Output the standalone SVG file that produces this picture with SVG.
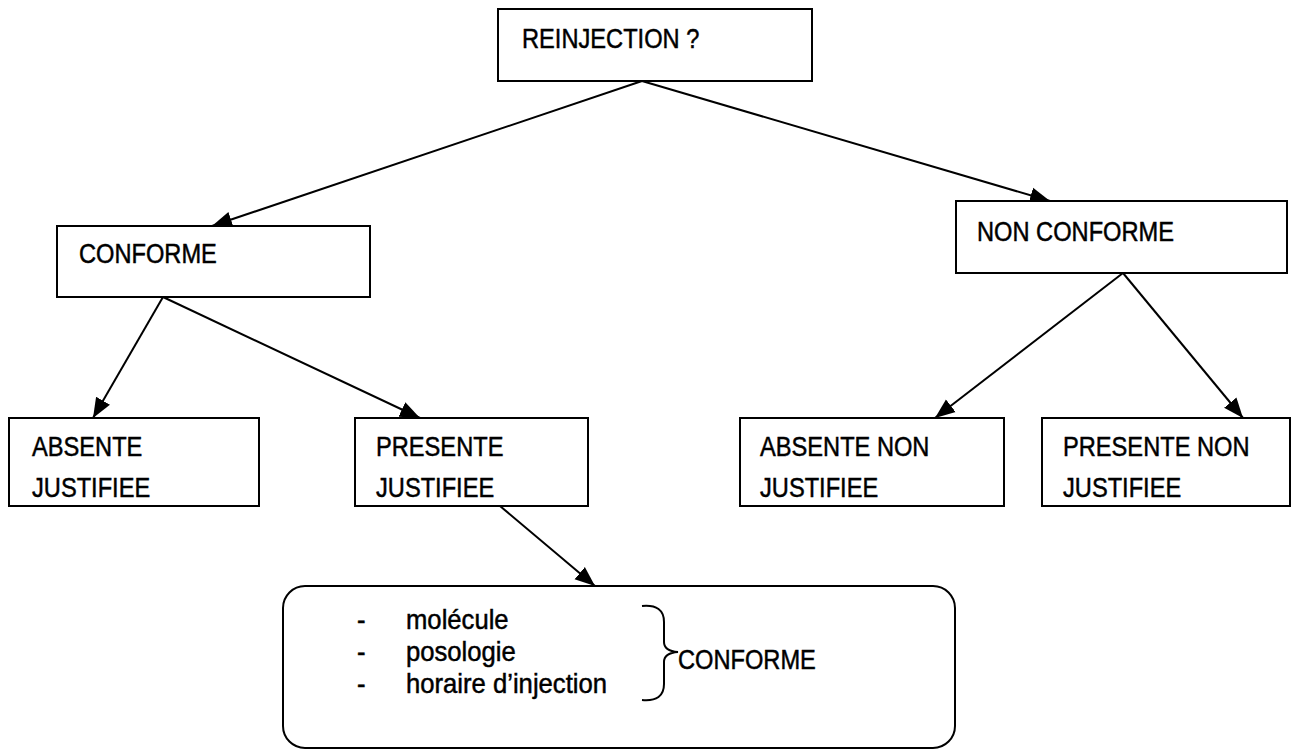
<svg xmlns="http://www.w3.org/2000/svg" width="1307" height="751" viewBox="0 0 1307 751">
  <defs>
    <marker id="arrow" markerUnits="userSpaceOnUse" markerWidth="22" markerHeight="18" refX="20" refY="9" orient="auto">
      <path d="M0,1 L20,9 L0,17 Z" fill="#000"/>
    </marker>
  </defs>
  <style>
    .box { fill: #fff; stroke: #000; stroke-width: 2; }
    .lbl { font-family: "Liberation Sans Narrow", "Liberation Sans", Arial, sans-serif; font-size: 28.5px; fill: #000; stroke: #000; stroke-width: 0.5; }
    .lst { font-family: "Liberation Sans Narrow", "Liberation Sans", Arial, sans-serif; font-size: 28.5px; fill: #000; stroke: #000; stroke-width: 0.5; }
    .edge { stroke: #000; stroke-width: 2; fill: none; marker-end: url(#arrow); }
    .brace { stroke: #000; stroke-width: 2; fill: none; }
  </style>
  <rect width="1307" height="751" fill="#fff"/>

  <!-- connectors -->
  <g id="connectors">
    <line class="edge" x1="642" y1="81" x2="212" y2="226"/>
    <line class="edge" x1="642" y1="81" x2="1050" y2="201"/>
    <line class="edge" x1="163" y1="297" x2="93" y2="418"/>
    <line class="edge" x1="163" y1="297" x2="420" y2="418"/>
    <line class="edge" x1="1123" y1="273" x2="935" y2="418"/>
    <line class="edge" x1="1123" y1="273" x2="1243" y2="418"/>
    <line class="edge" x1="500" y1="506" x2="595" y2="586"/>
  </g>

  <!-- labels use a horizontally condensed sans (narrow face) -->
  <g id="reinjection">
    <rect class="box" x="498" y="9" width="314" height="72"/>
    <text class="lbl" transform="matrix(0.83 0 0 1 522 48)">REINJECTION ?</text>
  </g>

  <g id="conforme">
    <rect class="box" x="57" y="226" width="313" height="71"/>
    <text class="lbl" transform="matrix(0.83 0 0 1 79 263)">CONFORME</text>
  </g>

  <g id="non-conforme">
    <rect class="box" x="956" y="201" width="331" height="72"/>
    <text class="lbl" transform="matrix(0.83 0 0 1 977 241)">NON CONFORME</text>
  </g>

  <g id="absente-justifiee">
    <rect class="box" x="9" y="418" width="250" height="88"/>
    <text class="lbl" transform="matrix(0.83 0 0 1 32 456)"><tspan x="0" y="0">ABSENTE</tspan><tspan x="0" y="41">JUSTIFIEE</tspan></text>
  </g>

  <g id="presente-justifiee">
    <rect class="box" x="355" y="418" width="233" height="88"/>
    <text class="lbl" transform="matrix(0.83 0 0 1 376 456)"><tspan x="0" y="0">PRESENTE</tspan><tspan x="0" y="41">JUSTIFIEE</tspan></text>
  </g>

  <g id="absente-non-justifiee">
    <rect class="box" x="740" y="418" width="264" height="88"/>
    <text class="lbl" transform="matrix(0.83 0 0 1 760 456)"><tspan x="0" y="0">ABSENTE NON</tspan><tspan x="0" y="41">JUSTIFIEE</tspan></text>
  </g>

  <g id="presente-non-justifiee">
    <rect class="box" x="1042" y="418" width="248" height="88"/>
    <text class="lbl" transform="matrix(0.83 0 0 1 1063 456)"><tspan x="0" y="0">PRESENTE NON</tspan><tspan x="0" y="41">JUSTIFIEE</tspan></text>
  </g>

  <g id="criteres">
    <rect class="box" x="283" y="586" width="672" height="162" rx="22" ry="22"/>
    <text class="lst" transform="matrix(0.9 0 0 1 357 629)">-</text>
    <text class="lst" transform="matrix(0.9 0 0 1 357 661)">-</text>
    <text class="lst" transform="matrix(0.9 0 0 1 357 693)">-</text>
    <text class="lst" transform="matrix(0.9 0 0 1 406 629)">molécule</text>
    <text class="lst" transform="matrix(0.9 0 0 1 406 661)">posologie</text>
    <text class="lst" transform="matrix(0.9 0 0 1 406 693)">horaire d’injection</text>
    <path class="brace" d="M642,606 Q664,604 664,622 L664,642 Q664,651 678,652 Q664,653 664,662 L664,684 Q664,702 642,700"/>
    <text class="lbl" transform="matrix(0.83 0 0 1 678 669)">CONFORME</text>
  </g>
</svg>
